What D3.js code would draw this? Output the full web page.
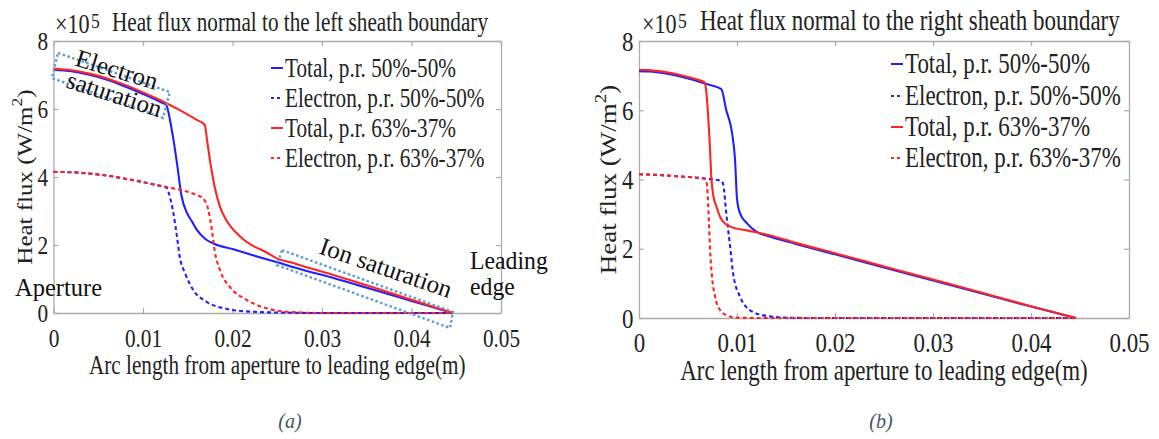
<!DOCTYPE html>
<html><head><meta charset="utf-8">
<script src="https://cdn.jsdelivr.net/npm/d3@7"></script>
<style>
body{margin:0;background:#fff;}
svg{display:block;font-family:"Liberation Serif","Times New Roman",serif;}
</style>
</head><body>
<svg id="chart" width="1159" height="439"></svg>
<script>
// ---------- shared labels ----------
const xTicks = [0, 0.01, 0.02, 0.03, 0.04, 0.05];
const xTickLabels = ["0", "0.01", "0.02", "0.03", "0.04", "0.05"];
const yTicks = [0, 2, 4, 6, 8];
const yTickLabels = ["0", "2", "4", "6", "8"];
const legendLabels = ["Total, p.r. 50%-50%", "Electron, p.r. 50%-50%", "Total, p.r. 63%-37%", "Electron, p.r. 63%-37%"];
const seriesColors = ["#1f1fff", "#1f1fff", "#ff2424", "#ff2424"];
const seriesDashed = [false, true, false, true];
const titles = ["Heat flux normal to the left sheath boundary", "Heat flux normal to the right sheath boundary"];
const xLabel = "Arc length from aperture to leading edge(m)";
const captions = ["(a)", "(b)"];

// ---------- panel (a): x [m], heat flux [x1e5 W/m^2] ----------
const leftTotal5050 = [[0,7.15],[0.002,7.11],[0.004,7.01],[0.006,6.86],[0.008,6.66],[0.010,6.44],[0.012,6.2],[0.0126,6.12],[0.013,5.7],[0.0134,5.1],[0.0138,4.4],[0.0143,3.45],[0.0149,2.95],[0.0155,2.68],[0.016,2.45],[0.017,2.17],[0.018,2.03],[0.020,1.88],[0.022,1.72],[0.025,1.49],[0.028,1.26],[0.031,1.05],[0.034,0.82],[0.037,0.59],[0.040,0.35],[0.0425,0.16],[0.0446,0]];
const leftElec5050 = [[0,4.15],[0.002,4.14],[0.004,4.10],[0.006,4.04],[0.008,3.95],[0.010,3.85],[0.012,3.73],[0.0126,3.69],[0.013,3.42],[0.0134,2.93],[0.0138,2.24],[0.0141,1.66],[0.0147,1.17],[0.0156,0.68],[0.0171,0.33],[0.0194,0.12],[0.022,0.04],[0.026,0.01],[0.030,0],[0.0446,0]];
const leftTotal6337 = [[0,7.18],[0.002,7.14],[0.004,7.04],[0.006,6.9],[0.008,6.71],[0.010,6.49],[0.012,6.25],[0.014,5.98],[0.016,5.68],[0.0169,5.53],[0.0172,5.0],[0.0176,4.3],[0.018,3.72],[0.0186,3.13],[0.0192,2.78],[0.0198,2.54],[0.0205,2.34],[0.0212,2.17],[0.022,2.02],[0.0238,1.78],[0.025,1.60],[0.0265,1.49],[0.028,1.37],[0.031,1.14],[0.034,0.90],[0.037,0.65],[0.040,0.39],[0.0425,0.18],[0.0446,0]];
const leftElec6337 = [[0,4.15],[0.002,4.14],[0.004,4.10],[0.006,4.04],[0.008,3.95],[0.010,3.85],[0.012,3.74],[0.014,3.63],[0.016,3.47],[0.0167,3.37],[0.0173,3.03],[0.0177,2.44],[0.018,1.85],[0.0186,1.26],[0.0197,0.77],[0.0216,0.38],[0.0238,0.14],[0.0264,0.03],[0.030,0],[0.0446,0]];

// ---------- panel (b) ----------
const rightTotal5050 = [[0,7.13],[0.001,7.12],[0.002,7.09],[0.003,7.05],[0.004,6.99],[0.005,6.92],[0.006,6.84],[0.007,6.75],[0.0084,6.61],[0.0089,6.01],[0.0095,5.34],[0.0098,4.57],[0.0100,3.45],[0.0103,3.03],[0.011,2.74],[0.012,2.49],[0.013,2.38],[0.016,2.14],[0.020,1.84],[0.025,1.46],[0.030,1.08],[0.035,0.71],[0.040,0.33],[0.0446,0]];
const rightElec5050 = [[0,4.15],[0.002,4.13],[0.004,4.09],[0.006,4.05],[0.0067,4.03],[0.0084,3.96],[0.0086,3.85],[0.0089,3.03],[0.0093,2.06],[0.0096,1.29],[0.0103,0.62],[0.0113,0.23],[0.013,0.06],[0.015,0.01],[0.018,0],[0.0446,0]];
const rightTotal6337 = [[0,7.17],[0.001,7.16],[0.002,7.13],[0.003,7.09],[0.004,7.03],[0.005,6.96],[0.006,6.88],[0.0067,6.80],[0.0068,6.69],[0.0072,5.14],[0.0074,3.99],[0.0076,3.51],[0.0079,3.22],[0.0084,2.85],[0.0093,2.64],[0.011,2.53],[0.013,2.41],[0.016,2.17],[0.020,1.87],[0.025,1.49],[0.030,1.11],[0.035,0.73],[0.040,0.34],[0.0446,0]];
const rightElec6337 = [[0,4.15],[0.002,4.13],[0.004,4.09],[0.006,4.05],[0.0067,4.02],[0.0069,3.9],[0.0071,3.03],[0.00724,2.06],[0.00742,1.29],[0.00776,0.62],[0.00827,0.23],[0.0091,0.06],[0.0100,0.01],[0.012,0],[0.0446,0]];

// ---------- annotations of panel (a), in data units ----------
const boxElectron = [[0.0005,7.65],[0.0130,6.5],[0.01223,5.74],[-0.00017,6.91]];
const boxIon = [[0.02553,1.85],[0.04464,0.03],[0.0443,-0.44],[0.02497,1.41]];

const svg = d3.select("#chart");
const AXC = "#ababab", TXC = "#222";

function txt(g, x, y, s, o = {}) {
  const t = g.append("text")
    .attr("transform", `translate(${x},${y}) scale(${o.sx ?? 1},1)` + (o.rot ? ` rotate(${o.rot})` : ""))
    .attr("font-size", o.size || 25)
    .attr("text-anchor", o.anchor || "start")
    .attr("fill", o.fill || TXC)
    .text(s);
  if (o.italic) t.attr("font-style", "italic");
  return t;
}

const panels = [
  {x0: 53.5, x1: 501, y0: 313, y1: 41, fs: 25, sx: 0.85, tfs: 26.5, tsx: 0.8,
   series: [leftTotal5050, leftElec5050, leftTotal6337, leftElec6337],
   titleX: 112, titleY: 31, expX: 55, legX: 285, legBase: [77, 107, 137, 167],
   xTickBase: 34, xLabBase: 374, yLabX: 32, capX: 290},
  {x0: 639, x1: 1129, y0: 318, y1: 41, fs: 27, sx: 0.85, tfs: 28.5, tsx: 0.805,
   series: [rightTotal5050, rightElec5050, rightTotal6337, rightElec6337],
   titleX: 700, titleY: 30, expX: 642, legX: 905, legBase: [73, 105, 136, 167],
   xTickBase: 34, xLabBase: 380, yLabX: 616, capX: 881}
];

panels.forEach((p, pi) => {
  const x = d3.scaleLinear().domain([0, 0.05]).range([p.x0, p.x1]);
  const y = d3.scaleLinear().domain([0, 8]).range([p.y0, p.y1]);
  const g = svg.append("g");

  const styleAxis = a => {
    a.selectAll(".domain").attr("stroke", AXC).attr("stroke-width", 1.3);
    a.selectAll(".tick line").attr("stroke", AXC).attr("stroke-width", 1.2);
  };
  const bottom = g.append("g").attr("transform", `translate(0,${p.y0})`)
    .call(d3.axisBottom(x).tickValues(xTicks).tickFormat((d, i) => xTickLabels[i]).tickSize(-5).tickSizeOuter(0));
  styleAxis(bottom);
  bottom.selectAll(".tick text").attr("y", null).attr("dy", null)
    .attr("transform", `translate(0,${p.xTickBase}) scale(${p.sx},1)`)
    .attr("font-size", p.fs).attr("font-family", "Liberation Serif").attr("fill", TXC);
  const top = g.append("g").attr("transform", `translate(0,${p.y1})`)
    .call(d3.axisTop(x).tickValues(xTicks).tickFormat("").tickSize(-5).tickSizeOuter(0));
  styleAxis(top);
  const left = g.append("g").attr("transform", `translate(${p.x0},0)`)
    .call(d3.axisLeft(y).tickValues(yTicks).tickFormat((d, i) => yTickLabels[i]).tickSize(-5).tickSizeOuter(0));
  styleAxis(left);
  left.selectAll(".tick text").attr("x", null).attr("dy", null)
    .attr("transform", `translate(-5.5,${p.fs * 0.34}) scale(${p.sx},1)`)
    .attr("font-size", p.fs).attr("font-family", "Liberation Serif").attr("fill", TXC);
  const right = g.append("g").attr("transform", `translate(${p.x1},0)`)
    .call(d3.axisRight(y).tickValues(yTicks).tickFormat("").tickSize(-5).tickSizeOuter(0));
  styleAxis(right);

  const line = d3.line().x(d => x(d[0])).y(d => y(d[1])).curve(d3.curveMonotoneX);
  p.series.forEach((s, i) => {
    g.append("path").datum(s).attr("d", line)
      .attr("fill", "none").attr("stroke", seriesColors[i]).attr("stroke-width", 2.1)
      .attr("stroke-dasharray", seriesDashed[i] ? "4,3" : null)
      .attr("stroke-linejoin", "round");
  });

  legendLabels.forEach((lab, i) => {
    const by = p.legBase[i];
    g.append("line").attr("x1", p.legX - 14).attr("x2", p.legX - 2)
      .attr("y1", by - 9).attr("y2", by - 9)
      .attr("stroke", seriesColors[i]).attr("stroke-width", 2)
      .attr("stroke-dasharray", seriesDashed[i] ? "3,3" : null);
    txt(g, p.legX, by, lab, {size: p.tfs, sx: p.tsx});
  });

  txt(g, p.titleX, p.titleY, titles[pi], {size: p.tfs, sx: p.tsx});
  txt(g, p.expX, 33, "\u00d710", {size: 27, sx: 0.82});
  txt(g, p.expX + 36, 28, "5", {size: 21, sx: 0.84});

  txt(g, (p.x0 + p.x1) / 2, p.xLabBase, xLabel, {size: p.tfs, sx: p.tsx, anchor: "middle"});
  const yl = txt(g, p.yLabX, (p.y0 + p.y1) / 2, "", {size: p.fs, sx: p.sx, rot: -90, anchor: "middle"});
  yl.append("tspan").text("Heat flux (W/m");
  yl.append("tspan").attr("font-size", p.fs * 0.7).attr("dy", -p.fs * 0.45).text("2");
  yl.append("tspan").attr("dy", p.fs * 0.45).text(")");

  txt(svg, p.capX, 428, captions[pi], {size: 20, italic: true, anchor: "middle", fill: "#44546a"});

  if (pi === 0) {
    const poly = d3.line().x(d => x(d[0])).y(d => y(d[1]));
    [boxElectron, boxIon].forEach(b => {
      g.append("path").attr("d", poly(b) + "Z").attr("fill", "none")
        .attr("stroke", "#5b9bd5").attr("stroke-width", 2.4).attr("stroke-dasharray", "2.5,2.5");
    });
    txt(g, x(0.00229), y(7.29), "Electron", {size: 25, rot: 17, fill: "#111"});
    txt(g, x(0.00128), y(6.65), "saturation", {size: 25, rot: 18, fill: "#111"});
    txt(g, x(0.02955), y(1.76), "Ion saturation", {size: 25, rot: 19, fill: "#111"});
    txt(g, x(0.04654), y(1.29), "Leading", {size: 25, sx: 0.95, fill: "#111"});
    txt(g, x(0.04654), y(0.53), "edge", {size: 25, sx: 0.95, fill: "#111"});
    txt(g, x(-0.0043), y(0.50), "Aperture", {size: 25, sx: 0.98, fill: "#111"});
  }
});
</script>
</body></html>
